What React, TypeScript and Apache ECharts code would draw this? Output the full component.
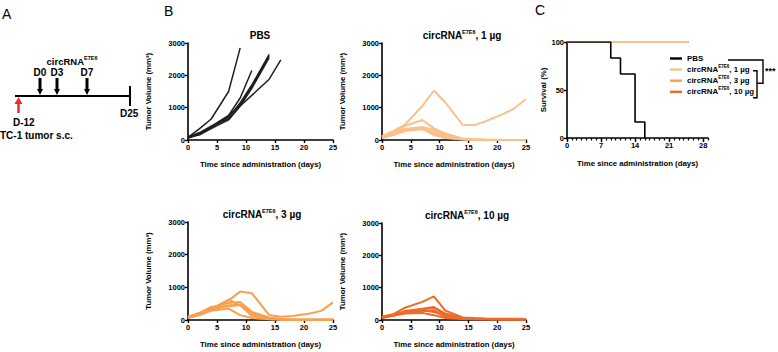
import React, { useEffect, useRef } from 'react';
import * as echarts from 'echarts';

// ---------- data ----------
const DAYS = [0, 2, 4, 7, 9, 11, 14, 16, 18, 21, 23, 25];

const PBS_MICE = [
  [80, 350, 650, 1500, 2850],
  [70, 200, 420, 760, 1300, 2150],
  [90, 230, 430, 650, 1050, 1380, 1880, 2480],
  [60, 180, 380, 700, 1150, 1700, 2650],
  [70, 190, 400, 740, 1100, 1650, 2600],
  [80, 160, 350, 620, 1050, 1600, 2550],
];

const DOSE1_MICE = [
  [120, 280, 480, 1050, 1530, 1160, 470, 460, 580, 800, 980, 1270],
  [100, 250, 440, 620, 360, 200, 50, 20, 10, 5, 0, 0],
  [80, 200, 330, 400, 320, 150, 40, 15, 5, 0, 0, 0],
  [90, 220, 300, 380, 250, 100, 30, 10, 5, 0, 0, 0],
  [60, 150, 280, 330, 200, 80, 20, 5, 0, 0, 0, 0],
  [110, 260, 350, 360, 150, 60, 15, 5, 0, 0, 0, 0],
];

const DOSE3_MICE = [
  [100, 200, 350, 600, 870, 820, 150, 100, 120, 200, 280, 540],
  [80, 180, 330, 620, 450, 200, 50, 20, 10, 5, 5, 5],
  [90, 200, 380, 520, 550, 250, 80, 30, 10, 5, 5, 5],
  [70, 150, 300, 450, 470, 180, 60, 20, 10, 5, 5, 5],
  [60, 160, 280, 350, 150, 60, 20, 10, 5, 5, 5, 5],
  [100, 220, 400, 420, 460, 120, 40, 15, 5, 5, 5, 5],
];

const DOSE10_MICE = [
  [100, 180, 380, 560, 730, 290, 80, 60, 50, 40, 35, 30],
  [80, 160, 280, 350, 400, 200, 60, 40, 30, 25, 20, 20],
  [90, 170, 250, 330, 380, 150, 50, 40, 30, 25, 20, 20],
  [70, 150, 220, 280, 300, 100, 40, 30, 25, 20, 20, 15],
  [100, 140, 200, 220, 150, 60, 30, 25, 20, 15, 15, 10],
  [60, 130, 230, 300, 250, 120, 50, 35, 30, 25, 20, 20],
];

const SURV_PBS_DAYS = [0, 9, 11, 14, 16];
const SURV_PBS = [100, 83.3, 66.7, 16.7, 0];
const SURV_TREATED_DAYS = [0, 25];
const SURV_TREATED = [100, 100];

const TUMOR_Y_TICKS = [0, 1000, 2000, 3000];
const TUMOR_X_TICKS = [0, 5, 10, 15, 20, 25];
const SURV_X_TICKS = [0, 7, 14, 21, 28];
const SURV_Y_TICKS = [0, 50, 100];

const C_PBS = '#1f1f1f';
const C_1 = '#F9C28C';
const C_3 = '#F7A150';
const C_10 = '#EF6A28';

const FONT = 'Liberation Sans';

const supText = (dose: string) => `{a|circRNA}{s|E7E6}{a|, ${dose}}`;

export default function App() {
  const ref = useRef<HTMLDivElement>(null);

  useEffect(() => {
    if (!ref.current) return;
    const chart = echarts.init(ref.current, undefined, { renderer: 'svg' });

    const axisLine = { show: true, lineStyle: { color: '#000', width: 1.6 } };
    const axisLabel = {
      color: '#000', fontSize: 7.5, fontWeight: 'bold' as const, fontFamily: FONT, margin: 3,
      formatter: (v: number) => String(v),
    };
    const nameStyle = { color: '#000', fontSize: 7.8, fontWeight: 'bold' as const, fontFamily: FONT };

    const grids = [
      { left: 188, top: 43, width: 145, height: 97 },
      { left: 382, top: 43, width: 144, height: 97 },
      { left: 188, top: 222, width: 145, height: 98 },
      { left: 382, top: 223, width: 144, height: 97 },
      { left: 567, top: 42, width: 141, height: 96 },
      { left: 567, top: 42, width: 136.1, height: 96 },
    ];

    const tumorX = (gi: number) => ({
      type: 'value', gridIndex: gi, min: TUMOR_X_TICKS[0], max: TUMOR_X_TICKS[TUMOR_X_TICKS.length - 1], interval: 5,
      axisLine, axisTick: { show: true, length: 3, lineStyle: { color: '#000', width: 1.4 } },
      axisLabel, splitLine: { show: false },
      name: 'Time since administration (days)', nameLocation: 'middle', nameGap: 20, nameTextStyle: nameStyle,
    });
    const tumorY = (gi: number) => ({
      type: 'value', gridIndex: gi, min: TUMOR_Y_TICKS[0], max: TUMOR_Y_TICKS[TUMOR_Y_TICKS.length - 1], interval: 1000,
      axisLine, axisTick: { show: true, length: 3, lineStyle: { color: '#000', width: 1.4 } },
      axisLabel, splitLine: { show: false },
      name: 'Tumor Volume (mm³)', nameLocation: 'middle', nameGap: 36, nameTextStyle: nameStyle,
    });

    const xAxis: any[] = [tumorX(0), tumorX(1), tumorX(2), tumorX(3),
      {
        type: 'value', gridIndex: 4, min: 0, max: 29, interval: 1,
        axisLine, axisTick: { show: true, length: 2.5, lineStyle: { color: '#000', width: 1.2 } },
        axisLabel: { ...axisLabel, formatter: (v: number) => (SURV_X_TICKS.includes(v) ? String(v) : '') },
        splitLine: { show: false },
        name: 'Time since administration (days)', nameLocation: 'middle', nameGap: 21, nameTextStyle: nameStyle,
      },
      {
        type: 'value', gridIndex: 5, min: 0, max: 28, interval: 7,
        axisLine: { show: false }, axisTick: { show: true, length: 4, lineStyle: { color: '#000', width: 1.4 } },
        axisLabel: { show: false }, splitLine: { show: false },
      },
    ];
    const yAxis: any[] = [tumorY(0), tumorY(1), tumorY(2), tumorY(3),
      {
        type: 'value', gridIndex: 4, min: SURV_Y_TICKS[0], max: SURV_Y_TICKS[2], interval: 50,
        axisLine, axisTick: { show: true, length: 3, lineStyle: { color: '#000', width: 1.4 } },
        axisLabel, splitLine: { show: false },
        name: 'Survival (%)', nameLocation: 'middle', nameGap: 18, nameTextStyle: nameStyle,
      },
      { type: 'value', gridIndex: 5, min: 0, max: 100, show: false },
    ];

    const series: any[] = [];
    const addMice = (mice: number[][], gi: number, color: string, label: string, width: number) => {
      mice.forEach((vals, i) => {
        series.push({
          type: 'line', name: `${label} mouse ${i + 1}`, xAxisIndex: gi, yAxisIndex: gi,
          data: vals.map((v, k) => [DAYS[k], v]), showSymbol: false, symbol: 'none',
          color, lineStyle: { color, width }, z: 2,
        });
      });
    };
    addMice(PBS_MICE, 0, C_PBS, 'PBS', 1.5);
    addMice(DOSE1_MICE, 1, C_1, '1 µg', 2);
    addMice(DOSE3_MICE, 2, C_3, '3 µg', 2);
    addMice(DOSE10_MICE, 3, C_10, '10 µg', 2);

    const survTreated = (name: string, color: string) => ({
      type: 'line', name, xAxisIndex: 4, yAxisIndex: 4, step: 'end', symbol: 'none', showSymbol: false,
      data: SURV_TREATED_DAYS.map((d, k) => [d, SURV_TREATED[k]]), color, lineStyle: { color, width: 1.8 }, z: 3,
    });
    series.push(survTreated('s10', C_10));
    series.push(survTreated('s3', C_3));
    series.push(survTreated('s1', C_1));
    series.push({
      type: 'line', name: 'sPBS', xAxisIndex: 4, yAxisIndex: 4, step: 'end', symbol: 'none', showSymbol: false,
      data: SURV_PBS_DAYS.map((d, k) => [d, SURV_PBS[k]]), color: '#000', lineStyle: { color: '#000', width: 1.6 }, z: 4,
    });

    const legendNames: Record<string, string> = {
      sPBS: '{a|PBS}', s1: supText('1 µg'), s3: supText('3 µg'), s10: supText('10 µg'),
    };

    const titleRich = {
      a: { fontSize: 10, fontWeight: 'bold', fontFamily: FONT, fill: '#000', lineHeight: 12 },
      s: { fontSize: 5.5, fontWeight: 'bold', fontFamily: FONT, fill: '#000', lineHeight: 7, verticalAlign: 'top' },
    };
    const t10 = { fontWeight: 'bold', fontFamily: FONT, fontSize: 10, fill: '#000' };

    const graphic: any[] = [
      // panel letters
      { type: 'text', x: 2, y: 7, style: { text: 'A', fontSize: 14, fontFamily: FONT, fill: '#000' } },
      { type: 'text', x: 164, y: 4, style: { text: 'B', fontSize: 14, fontFamily: FONT, fill: '#000' } },
      { type: 'text', x: 535, y: 3, style: { text: 'C', fontSize: 14, fontFamily: FONT, fill: '#000' } },
      // panel titles
      { type: 'text', x: 260, y: 35, style: { text: 'PBS', ...t10, align: 'center', verticalAlign: 'middle' } },
      { type: 'text', x: 462, y: 35, style: { text: supText('1 µg'), rich: titleRich, align: 'center', verticalAlign: 'middle' } },
      { type: 'text', x: 262, y: 214, style: { text: supText('3 µg'), rich: titleRich, align: 'center', verticalAlign: 'middle' } },
      { type: 'text', x: 467, y: 215, style: { text: supText('10 µg'), rich: titleRich, align: 'center', verticalAlign: 'middle' } },
      // panel A timeline
      { type: 'line', shape: { x1: 15, y1: 96, x2: 130, y2: 96 }, style: { stroke: '#000', lineWidth: 2 } },
      { type: 'line', shape: { x1: 130, y1: 86, x2: 130, y2: 106 }, style: { stroke: '#000', lineWidth: 2 } },
      { type: 'text', x: 72, y: 61, style: { text: '{a|circRNA}{s|E7E6}', rich: { a: { ...titleRich.a, fontSize: 9.5 }, s: titleRich.s }, align: 'center', verticalAlign: 'middle' } },
      { type: 'text', x: 13, y: 122.5, style: { text: 'D-12', ...t10, verticalAlign: 'middle' } },
      { type: 'text', x: 0, y: 135, style: { text: 'TC-1 tumor s.c.', ...t10, verticalAlign: 'middle' } },
      { type: 'text', x: 120, y: 113, style: { text: 'D25', ...t10, verticalAlign: 'middle' } },
      // red arrow
      { type: 'line', shape: { x1: 18.5, y1: 113, x2: 18.5, y2: 102 }, style: { stroke: '#E6302A', lineWidth: 2.5 } },
      { type: 'polygon', shape: { points: [[14.5, 104], [22.5, 104], [18.5, 97]] }, style: { fill: '#E6302A' } },
      // bracket & stars in C
      { type: 'polyline', shape: { points: [[728, 60], [763, 60], [763, 83.3], [757, 83.3]] }, style: { stroke: '#000', lineWidth: 1.4, fill: null } },
      { type: 'polyline', shape: { points: [[753, 70.7], [757, 70.7], [757, 97.7], [753, 97.7]] }, style: { stroke: '#000', lineWidth: 1.4, fill: null } },
      { type: 'text', x: 765, y: 71, style: { text: '***', ...t10, fontSize: 9, verticalAlign: 'middle' } },
    ];
    const doseDays = [['D0', 40], ['D3', 57], ['D7', 87]] as const;
    doseDays.forEach(([lab, x]) => {
      graphic.push({ type: 'line', shape: { x1: x, y1: 78, x2: x, y2: 90 }, style: { stroke: '#000', lineWidth: 3 } });
      graphic.push({ type: 'polygon', shape: { points: [[x - 3, 89], [x + 3, 89], [x, 95]] }, style: { fill: '#000' } });
      graphic.push({ type: 'text', x, y: 72.7, style: { text: lab, ...t10, align: 'center', verticalAlign: 'middle' } });
    });

    chart.setOption({
      animation: false,
      backgroundColor: '#fff',
      grid: grids,
      xAxis,
      yAxis,
      series,
      legend: {
        data: ['sPBS', 's1', 's3', 's10'],
        orient: 'vertical', left: 670, top: 54.5, padding: 0,
        icon: 'rect', itemWidth: 12, itemHeight: 2.4, itemGap: 1.6,
        selectedMode: false,
        formatter: (n: string) => legendNames[n],
        textStyle: {
          rich: {
            a: { fontSize: 7.9, fontWeight: 'bold', fontFamily: FONT, color: '#000', lineHeight: 11 },
            s: { fontSize: 4.6, fontWeight: 'bold', fontFamily: FONT, color: '#000', lineHeight: 7, verticalAlign: 'top' },
          },
        },
      },
      graphic,
    });

    return () => chart.dispose();
  }, []);

  return (
    <div
      ref={ref}
      style={{ position: 'absolute', left: 0, top: 0, width: 778, height: 352, background: '#fff' }}
    />
  );
}
